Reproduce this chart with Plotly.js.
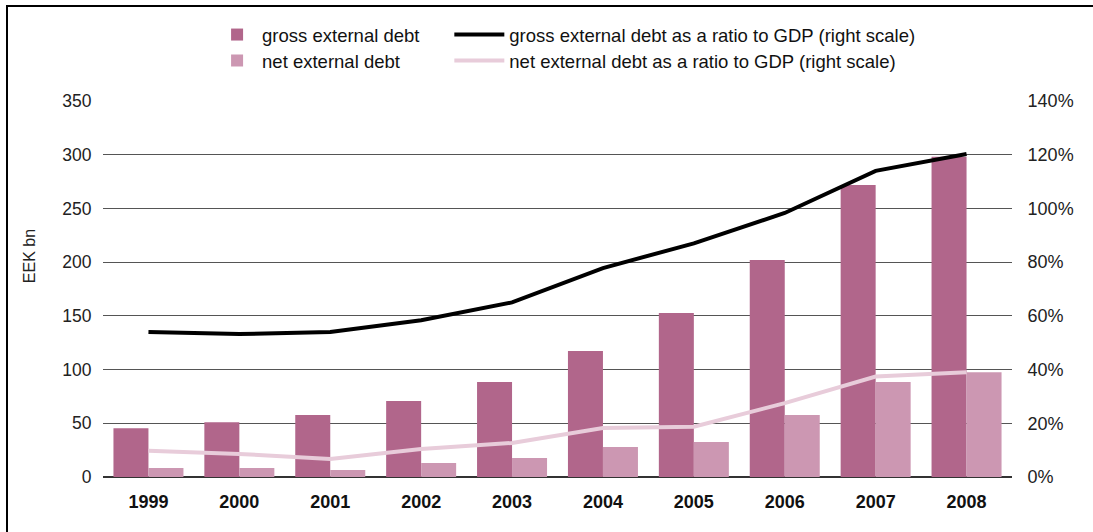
<!DOCTYPE html>
<html>
<head>
<meta charset="utf-8">
<script src="https://cdn.plot.ly/plotly-3.0.1.min.js"></script>
<style>
  html, body { margin: 0; padding: 0; background: #fff; }
  #wrap { position: relative; width: 1093px; height: 532px; }
  #chart { width: 1093px; height: 532px; }
  #frame { position: absolute; left: 6px; top: 5px; right: 0; bottom: 0;
           border-left: 2px solid #000; border-top: 2px solid #000; pointer-events: none; }
</style>
</head>
<body>
<div id="wrap">
  <div id="chart"></div>
  <div id="frame"></div>
</div>
<script>
const years = ['1999','2000','2001','2002','2003','2004','2005','2006','2007','2008'];
const grossDebt = [45.3, 50.9, 57.7, 70.7, 88.4, 117.3, 152.7, 202, 271.8, 298];
const netDebt = [8.4, 8.4, 6.5, 13, 17.7, 27.9, 32.6, 57.7, 88.4, 97.4];
const grossRatio = [0.54, 0.532, 0.54, 0.584, 0.65, 0.778, 0.87, 0.983, 1.14, 1.203];
const netRatio = [0.098, 0.086, 0.067, 0.104, 0.127, 0.182, 0.187, 0.275, 0.374, 0.39];
const yTitle = 'EEK bn';

const FONT = 'Liberation Sans, Arial, sans-serif';

const traces = [
  { type: 'bar', name: 'gross external debt', x: years, y: grossDebt,
    marker: { color: '#b1668b' }, legend: 'legend' },
  { type: 'scatter', mode: 'lines', name: 'gross external debt as a ratio to GDP (right scale)',
    x: years, y: grossRatio, yaxis: 'y2', line: { color: '#000000', width: 4 }, legend: 'legend2' },
  { type: 'bar', name: 'net external debt', x: years, y: netDebt,
    marker: { color: '#cc97b2' }, legend: 'legend3' },
  { type: 'scatter', mode: 'lines', name: 'net external debt as a ratio to GDP (right scale)',
    x: years, y: netRatio, yaxis: 'y2', line: { color: '#e8ccda', width: 4 }, legend: 'legend4' }
];

function leg(x, y, iw) {
  return {
    orientation: 'h', xanchor: 'left', yanchor: 'top', x: x, y: y,
    font: { family: FONT, size: 18.5, color: '#111' },
    itemwidth: iw, bgcolor: 'rgba(0,0,0,0)', borderwidth: 0
  };
}

const layout = {
  width: 1093, height: 532,
  margin: { l: 103, r: 81, t: 101, b: 55 },
  paper_bgcolor: '#fff', plot_bgcolor: '#fff',
  font: { family: FONT, size: 17, color: '#222' },
  barmode: 'group', bargap: 0.23, bargroupgap: 0,
  showlegend: true,
  legend: leg(0.12, 1.226, 40),
  legend2: leg(0.381, 1.226, 50),
  legend3: leg(0.12, 1.157, 40),
  legend4: leg(0.381, 1.157, 50),
  xaxis: {
    type: 'category', showgrid: false, zeroline: false, showline: false,
    ticks: 'outside', ticklen: 8, tickcolor: 'rgba(0,0,0,0)',
    tickfont: { family: FONT, size: 18, color: '#111', weight: 'bold' }
  },
  yaxis: {
    range: [0, 350], dtick: 50, tick0: 0,
    showgrid: true, gridcolor: '#555', gridwidth: 1,
    zeroline: true, zerolinecolor: '#333', zerolinewidth: 1.5,
    showline: false, ticks: 'outside', ticklen: 7, tickcolor: 'rgba(0,0,0,0)',
    tickfont: { family: FONT, size: 17.5, color: '#222' }
  },
  yaxis2: {
    overlaying: 'y', side: 'right', range: [0, 1.4], dtick: 0.2, tick0: 0,
    tickformat: '.0%', showgrid: false, zeroline: false, showline: false,
    ticks: 'outside', ticklen: 11, tickcolor: 'rgba(0,0,0,0)',
    tickfont: { family: FONT, size: 18, color: '#222' }
  },
  annotations: [{
    text: yTitle, xref: 'paper', yref: 'paper', x: -0.08, y: 0.588,
    xanchor: 'center', yanchor: 'middle', textangle: -90, showarrow: false,
    font: { family: FONT, size: 16, color: '#222' }
  }]
};

Plotly.newPlot('chart', traces, layout, { displayModeBar: false, staticPlot: true });
</script>
</body>
</html>
